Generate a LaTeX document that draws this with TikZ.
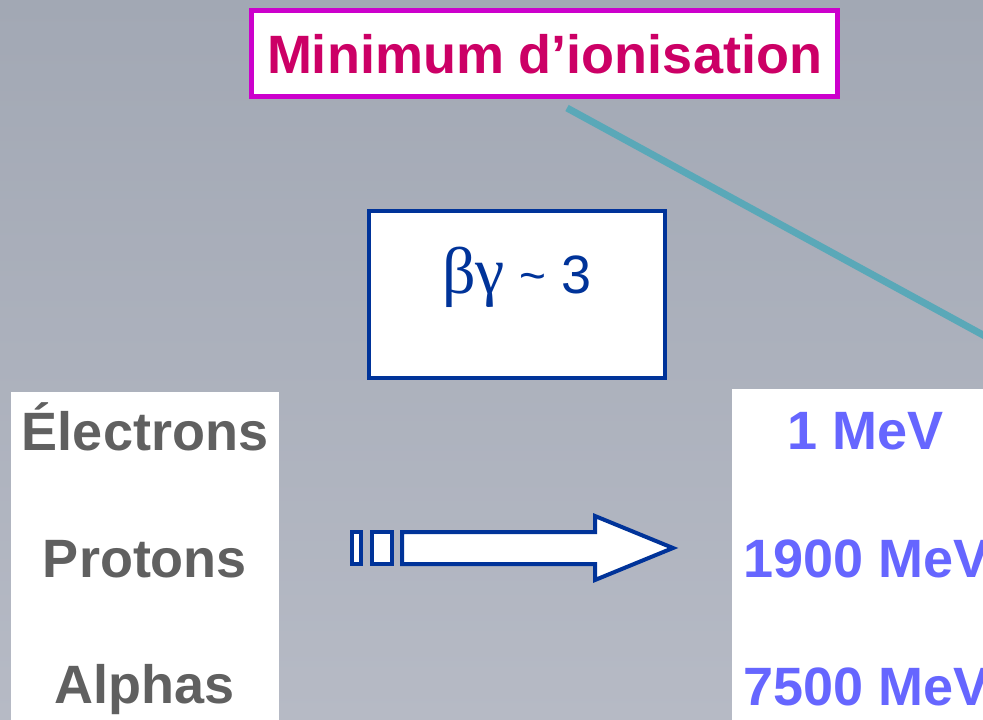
\documentclass[tikz,border=0pt]{standalone}
\usepackage{fontspec}
\setmainfont{Liberation Sans}
\newfontfamily\serifgreek{Liberation Serif}
\definecolor{bgtop}{RGB}{162,168,180}
\definecolor{bgbot}{RGB}{182,186,197}
\definecolor{magborder}{RGB}{204,0,204}
\definecolor{magtext}{RGB}{204,0,102}
\definecolor{darkblue}{RGB}{0,51,153}
\definecolor{graytext}{RGB}{96,96,96}
\definecolor{mevblue}{RGB}{102,102,255}
\definecolor{tealline}{RGB}{90,168,184}
\begin{document}
\begin{tikzpicture}[x=1pt,y=-1pt,
  titlebox/.style={draw=magborder,line width=5pt,fill=white,minimum width=586pt,minimum height=86pt,inner sep=0pt,
    text=magtext,font=\bfseries\fontsize{54}{60}\selectfont,text height=40pt,text depth=0pt},
  betabox/.style={draw=darkblue,line width=4pt,fill=white,minimum width=296pt,minimum height=167pt,inner sep=0pt},
  betatext/.style={text=darkblue,font=\fontsize{54}{60}\selectfont,anchor=base,inner sep=0pt},
  whitepanel/.style={fill=white,draw=none,inner sep=0pt,anchor=north west},
  particle/.style={text=graytext,font=\bfseries\fontsize{54}{60}\selectfont,anchor=base,inner sep=0pt},
  energy/.style={text=mevblue,font=\bfseries\fontsize{54}{60}\selectfont,anchor=base,inner sep=0pt},
  pointer/.style={draw=tealline,line width=7pt},
  hollowarrow/.style={draw=darkblue,line width=4pt,fill=white,line join=miter}
]
\useasboundingbox (0,0) rectangle (983,720);
\clip (0,0) rectangle (983,720);
\shade[top color=bgtop,bottom color=bgbot] (0,0) rectangle (983,720);

% pointer line
\coordinate (ptrA) at (567,108);
\coordinate (ptrB) at (1010,349.7);
\draw[pointer] (ptrA) -- (ptrB);

% title
\node[titlebox] (title) at (544.5,53.5) {Minimum d’ionisation};

% beta gamma box
\node[betabox] (betabox) at (517,294.5) {};
\node[betatext] (betatxt) at (517,293) {{\serifgreek\fontsize{66}{70}\selectfont βγ} {\fontsize{46}{50}\selectfont\raisebox{2pt}{\char"007E}} 3};

% left panel
\node[whitepanel,minimum width=268pt,minimum height=340pt] (leftpanel) at (11,392) {};
\node[particle] (electrons) at (145,450) {Électrons};
\node[particle] (protons) at (145,577) {Protons};
\node[particle] (alphas) at (145,703) {Alphas};

% right panel
\node[whitepanel,minimum width=270pt,minimum height=340pt] (rightpanel) at (732,389) {};
\node[energy] (e1) at (866,449) {1 MeV};
\node[energy] (e2) at (867,577) {1900 MeV};
\node[energy] (e3) at (867,705) {7500 MeV};

% hollow arrow
\draw[hollowarrow] (352,532) rectangle (361,564);
\draw[hollowarrow] (372,532) rectangle (392,564);
\draw[hollowarrow] (402,532) -- (595,532) -- (595,516) -- (673,548) -- (595,580) -- (595,564) -- (402,564) -- cycle;
\end{tikzpicture}
\end{document}
